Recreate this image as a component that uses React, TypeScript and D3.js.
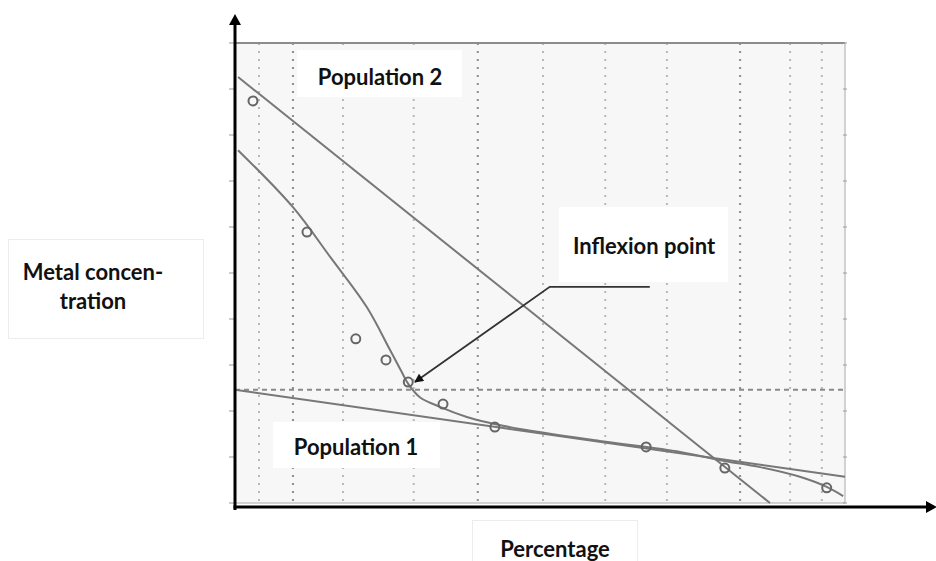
import React from "react";
import * as d3 from "d3";

// sample points (percentage, metal concentration)
const pointX = [2.95, 11.8, 19.8, 24.75, 28.4, 34.1, 42.6, 67.4, 80.3, 97.0];
const pointY = [8.74, 5.89, 3.57, 3.11, 2.63, 2.15, 1.65, 1.22, 0.76, 0.33];

// fitted mixture curve
const curveX = [0.49, 9.5, 15.6, 21.6, 25.4, 27.4, 28.4, 30.3, 33.6, 38.0, 41.8, 46.7, 59.8, 73.0, 79.5, 86.1, 92.6, 97.0, 99.7];
const curveY = [7.67, 6.43, 5.35, 4.26, 3.33, 2.83, 2.59, 2.3, 2.09, 1.87, 1.74, 1.61, 1.35, 1.11, 0.93, 0.78, 0.57, 0.35, 0.15];

// straight population lines (two end points each)
const pop2X = [0.5, 87.7];
const pop2Y = [9.26, 0];
const pop1X = [0, 100];
const pop1Y = [2.46, 0.57];

// threshold at the inflexion
const thresholdY = 2.46;

// annotation arrow
const arrowX = [68.0, 51.6, 29.5];
const arrowY = [4.7, 4.7, 2.63];

// grid
const gridMajor = [9.5, 39.8, 82.8];
const gridMinor = [3.93, 17.7, 29.3, 50.5, 60.7, 70.8, 91.0, 96.2];
const yTicks = d3.range(0, 11);

const W = 936;
const H = 561;
const FONT = "Lato, 'Open Sans', sans-serif";

export default function App() {
  const x = d3.scaleLinear().domain([0, 100]).range([235, 845]);
  const y = d3.scaleLinear().domain([0, 10]).range([503, 43]);

  const line = d3.line<[number, number]>().x(d => x(d[0])).y(d => y(d[1]));
  const smooth = d3.line<[number, number]>().x(d => x(d[0])).y(d => y(d[1])).curve(d3.curveCatmullRom.alpha(0.5));

  const zip = (a: number[], b: number[]) => a.map((v, i) => [v, b[i]] as [number, number]);

  const x0 = x(0), x1 = x(100), yTop = y(10), yBot = y(0);

  const label = (t: string, cx: number, by: number) => (
    <text x={cx} y={by} textAnchor="middle" fontFamily={FONT} fontWeight="bold" fontSize={22} fill="#111">{t}</text>
  );

  return (
    <svg width={W} height={H} style={{ position: "absolute", left: 0, top: 0, background: "#fff" }}>
      <defs>
        <marker id="ah" viewBox="0 0 10 10" refX="9" refY="5" markerWidth="11" markerHeight="9" markerUnits="userSpaceOnUse" orient="auto">
          <path d="M0,0 L10,5 L0,10 Z" fill="#111" />
        </marker>
      </defs>

      {/* plot background */}
      <rect x={x0} y={yTop} width={x1 - x0} height={yBot - yTop} fill="#f7f7f7" />

      {/* vertical gridlines */}
      {gridMinor.map(v => (
        <line key={"mi" + v} x1={x(v)} x2={x(v)} y1={yTop} y2={yBot} stroke="#b8b8b8" strokeWidth={2} strokeDasharray="2,6" />
      ))}
      {gridMajor.map(v => (
        <line key={"ma" + v} x1={x(v)} x2={x(v)} y1={yTop} y2={yBot} stroke="#8f8f8f" strokeWidth={2} strokeDasharray="2,6" />
      ))}

      {/* frame */}
      <line x1={x0} x2={x1} y1={yTop} y2={yTop} stroke="#8c8c8c" strokeWidth={2} />
      <line x1={x1} x2={x1} y1={yTop} y2={yBot} stroke="#c4c4c4" strokeWidth={1.5} />
      <line x1={x0} x2={x1} y1={yBot} y2={yBot} stroke="#c4c4c4" strokeWidth={1.5} />

      {/* y ticks */}
      {yTicks.map(t => (
        <g key={"t" + t}>
          <line x1={x0 - 6} x2={x0} y1={y(t)} y2={y(t)} stroke="#9a9a9a" strokeWidth={1} />
          <line x1={x1 - 2} x2={x1 + 2} y1={y(t)} y2={y(t)} stroke="#9a9a9a" strokeWidth={1} />
        </g>
      ))}

      {/* label boxes */}
      <rect x={297} y={50} width={165} height={47} fill="#fff" />
      <rect x={559} y={207} width={169} height={75} fill="#fff" />
      <rect x={273} y={422} width={167} height={46} fill="#fff" />
      <rect x={8.5} y={239.5} width={195} height={99} fill="#fff" stroke="#ececec" />
      <rect x={472.5} y={520.5} width={165} height={50} fill="#fff" stroke="#ececec" />

      {/* threshold dashed line */}
      <line x1={x0} x2={x1} y1={y(thresholdY)} y2={y(thresholdY)} stroke="#8a8a8a" strokeWidth={2} strokeDasharray="5,4" />

      {/* fitted lines */}
      <path d={line(zip(pop2X, pop2Y)) || ""} fill="none" stroke="#777" strokeWidth={2} />
      <path d={line(zip(pop1X, pop1Y)) || ""} fill="none" stroke="#777" strokeWidth={2} />
      <path d={smooth(zip(curveX, curveY)) || ""} fill="none" stroke="#777" strokeWidth={2} />

      {/* points */}
      {pointX.map((v, i) => (
        <circle key={"p" + i} cx={x(v)} cy={y(pointY[i])} r={4.5} fill="none" stroke="#666" strokeWidth={2} />
      ))}

      {/* annotation arrow */}
      <path d={line(zip(arrowX, arrowY)) || ""} fill="none" stroke="#333" strokeWidth={1.8} markerEnd="url(#ah)" />

      {/* axes */}
      <line x1={x0} x2={x0} y1={510} y2={22} stroke="#000" strokeWidth={3} />
      <path d={`M${x0 - 6},25 L${x0},14 L${x0 + 6},25 Z`} fill="#000" />
      <line x1={x0 - 1.5} x2={928} y1={507} y2={507} stroke="#000" strokeWidth={3} />
      <path d={`M926,501 L937,507 L926,513 Z`} fill="#000" />

      {/* texts */}
      {label("Population 2", 380, 85)}
      {label("Inflexion point", 644, 254)}
      {label("Population 1", 356, 455)}
      {label("Metal concen-", 93, 280)}
      {label("tration", 93, 309)}
      {label("Percentage", 555, 557)}
    </svg>
  );
}
